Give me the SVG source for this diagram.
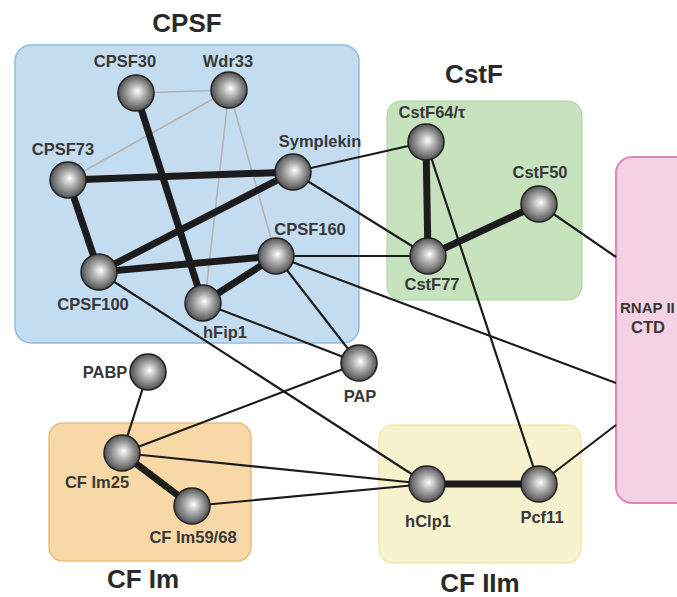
<svg xmlns="http://www.w3.org/2000/svg" width="677" height="597" viewBox="0 0 677 597">
<defs>
<radialGradient id="sph" cx="0.5" cy="0.5" r="0.55" fx="0.55" fy="0.45">
<stop offset="0" stop-color="#ffffff"/>
<stop offset="0.35" stop-color="#b8b8b8"/>
<stop offset="0.8" stop-color="#666666"/>
<stop offset="1" stop-color="#333333"/>
</radialGradient>
<style>
.lbl{font-family:"Liberation Sans",Arial,sans-serif;font-weight:bold;font-size:16.5px;fill:#383838;text-anchor:middle}
.ttl{font-family:"Liberation Sans",Arial,sans-serif;font-weight:bold;font-size:26px;fill:#2a2a2a;text-anchor:middle}
.n{fill:url(#sph);stroke:#222;stroke-width:1.5}
.g{stroke:#b4b4b4;stroke-width:1.6;fill:none}
.k{stroke:#1c1c1c;stroke-width:2.2;fill:none}
.t{stroke:#1c1c1c;stroke-width:7;fill:none}
</style>
</defs>
<rect width="677" height="597" fill="#ffffff"/>
<g id="groups">
<g id="cpsf-box"><rect x="15" y="45" width="344" height="298" rx="16" fill="#c4dcf0" stroke="#8cbde6" stroke-width="1.5"/><text class="ttl" x="187" y="32">CPSF</text></g>
<g id="cstf-box"><rect x="387" y="101" width="195" height="199" rx="14" fill="#c6e3bd" stroke="#a8d49a" stroke-width="1"/><text class="ttl" x="474" y="83">CstF</text></g>
<g id="rnap-box"><rect x="616" y="157" width="80" height="346" rx="16" fill="#f4d2e4" stroke="#e286bc" stroke-width="2"/><text class="lbl" x="620" y="313" style="text-anchor:start;font-size:15px">RNAP II</text><text class="lbl" x="648" y="333">CTD</text></g>
<g id="cfim-box"><rect x="49" y="423" width="202" height="138" rx="14" fill="#f8d8a6" stroke="#ecbd80" stroke-width="1.5"/><text class="ttl" x="143" y="588">CF Im</text></g>
<g id="cfiim-box"><rect x="379" y="425" width="202" height="138" rx="14" fill="#f7f3cf" stroke="#efe9b6" stroke-width="1.5"/><text class="ttl" x="480" y="592">CF IIm</text></g>
</g>
<g id="connectors">
<line class="g" x1="136" y1="93" x2="229" y2="90"/>
<line class="g" x1="229" y1="90" x2="68" y2="180"/>
<line class="g" x1="229" y1="90" x2="205" y2="300"/>
<line class="g" x1="229" y1="90" x2="276" y2="256"/>
<line class="k" x1="293" y1="172" x2="426" y2="142"/>
<line class="k" x1="293" y1="172" x2="428" y2="256"/>
<line class="k" x1="276" y1="256" x2="428" y2="256"/>
<line class="k" x1="276" y1="256" x2="616" y2="383"/>
<line class="k" x1="276" y1="256" x2="359" y2="363"/>
<line class="k" x1="203" y1="303" x2="359" y2="363"/>
<line class="k" x1="99" y1="272" x2="427" y2="484"/>
<line class="k" x1="426" y1="142" x2="539" y2="484"/>
<line class="k" x1="539" y1="204" x2="616" y2="257"/>
<line class="k" x1="539" y1="484" x2="616" y2="425"/>
<line class="k" x1="148" y1="372" x2="122" y2="453"/>
<line class="k" x1="122" y1="453" x2="359" y2="363"/>
<line class="k" x1="122" y1="453" x2="427" y2="484"/>
<line class="k" x1="192" y1="506" x2="427" y2="484"/>
<line class="t" x1="136" y1="93" x2="203" y2="303"/>
<line class="t" x1="68" y1="180" x2="293" y2="172"/>
<line class="t" x1="68" y1="180" x2="99" y2="272"/>
<line class="t" x1="99" y1="272" x2="293" y2="172"/>
<line class="t" x1="99" y1="272" x2="276" y2="256"/>
<line class="t" x1="203" y1="303" x2="276" y2="256"/>
<line class="t" x1="426" y1="142" x2="428" y2="256"/>
<line class="t" x1="428" y1="256" x2="539" y2="204"/>
<line class="t" x1="122" y1="453" x2="192" y2="506"/>
<line class="t" x1="427" y1="484" x2="539" y2="484"/>
</g>
<g id="CPSF30"><circle class="n" cx="136" cy="93" r="18"/><text class="lbl" x="125" y="67">CPSF30</text></g>
<g id="Wdr33"><circle class="n" cx="229" cy="90" r="18"/><text class="lbl" x="228" y="67">Wdr33</text></g>
<g id="CPSF73"><circle class="n" cx="68" cy="180" r="18"/><text class="lbl" x="63" y="155">CPSF73</text></g>
<g id="Symplekin"><circle class="n" cx="293" cy="172" r="18"/><text class="lbl" x="320" y="147">Symplekin</text></g>
<g id="CPSF160"><circle class="n" cx="276" cy="256" r="18"/><text class="lbl" x="310" y="235">CPSF160</text></g>
<g id="CPSF100"><circle class="n" cx="99" cy="272" r="18"/><text class="lbl" x="93" y="310">CPSF100</text></g>
<g id="hFip1"><circle class="n" cx="203" cy="303" r="18"/><text class="lbl" x="225" y="338">hFip1</text></g>
<g id="PAP"><circle class="n" cx="359" cy="363" r="18"/><text class="lbl" x="360" y="402">PAP</text></g>
<g id="PABP"><circle class="n" cx="148" cy="372" r="18"/><text class="lbl" x="105" y="378">PABP</text></g>
<g id="CFIm25"><circle class="n" cx="122" cy="453" r="18"/><text class="lbl" x="97" y="488">CF Im25</text></g>
<g id="CFIm59-68"><circle class="n" cx="192" cy="506" r="18"/><text class="lbl" x="193" y="543">CF Im59/68</text></g>
<g id="hClp1"><circle class="n" cx="427" cy="484" r="18"/><text class="lbl" x="428" y="527">hClp1</text></g>
<g id="Pcf11"><circle class="n" cx="539" cy="484" r="18"/><text class="lbl" x="542" y="523">Pcf11</text></g>
<g id="CstF64"><circle class="n" cx="426" cy="142" r="18"/><text class="lbl" x="432" y="118">CstF64/τ</text></g>
<g id="CstF77"><circle class="n" cx="428" cy="256" r="18"/><text class="lbl" x="432" y="290">CstF77</text></g>
<g id="CstF50"><circle class="n" cx="539" cy="204" r="18"/><text class="lbl" x="540" y="178">CstF50</text></g>
</svg>
